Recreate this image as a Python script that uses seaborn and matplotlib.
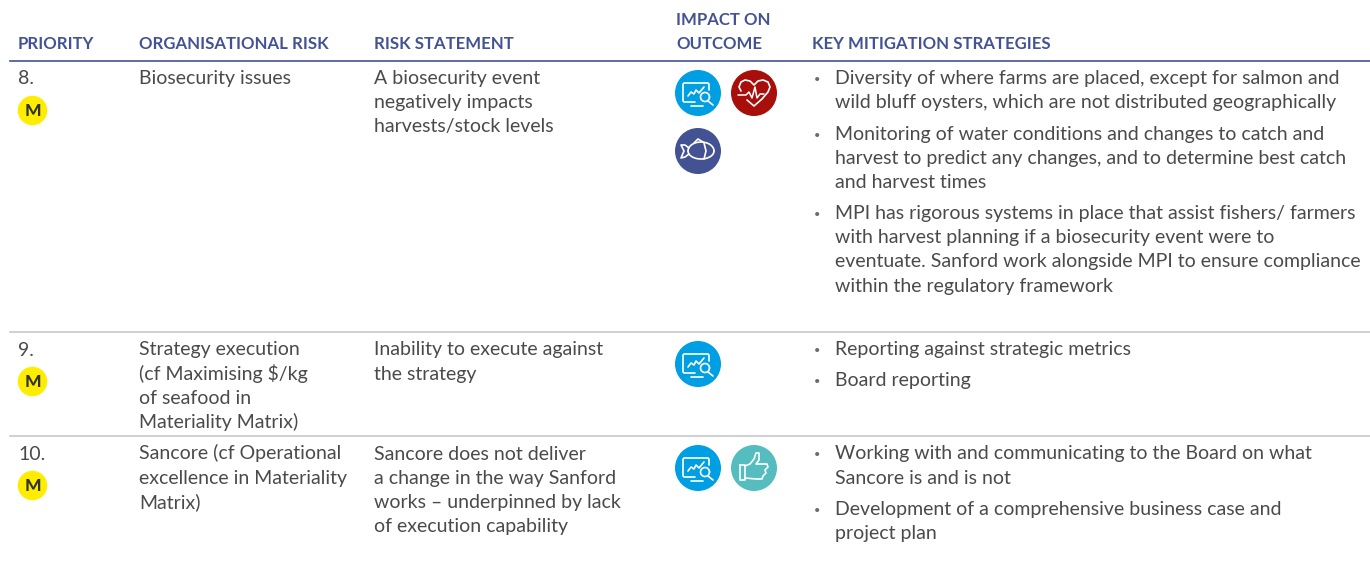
import numpy as np
import pandas as pd
import seaborn as sns
import matplotlib.pyplot as plt

# table content
headers = ['PRIORITY', 'ORGANISATIONAL RISK', 'RISK STATEMENT', 'KEY MITIGATION STRATEGIES']
header_x = [18, 139, 374, 812]
priority = ['8.', '9.', '10.']
risks = [['Biosecurity issues'],
         ['Strategy execution', '(cf Maximising $/kg', 'of seafood in', 'Materiality Matrix)'],
         ['Sancore (cf Operational', 'excellence in Materiality', 'Matrix)']]
statements = [['A biosecurity event', 'negatively impacts', 'harvests/stock levels'],
              ['Inability to execute against', 'the strategy'],
              ['Sancore does not deliver', 'a change in the way Sanford', 'works – underpinned by lack', 'of execution capability']]
mitigations = [[['Diversity of where farms are placed, except for salmon and', 'wild bluff oysters, which are not distributed geographically'],
                ['Monitoring of water conditions and changes to catch and', 'harvest to predict any changes, and to determine best catch', 'and harvest times'],
                ['MPI has rigorous systems in place that assist fishers/ farmers', 'with harvest planning if a biosecurity event were to', 'eventuate. Sanford work alongside MPI to ensure compliance', 'within the regulatory framework']],
               [['Reporting against strategic metrics'], ['Board reporting']],
               [['Working with and communicating to the Board on what', 'Sancore is and is not'],
                ['Development of a comprehensive business case and', 'project plan']]]
row_top = [84, 355.5, 459.5]
bullet_tops = [[84, 140, 219], [355.5, 386], [459.5, 514.5]]

# icons
icon_x = [698, 754, 698, 698, 698, 754]
icon_y = [93, 93, 151, 364, 468, 468]
icon_kind = ['chart', 'heart', 'fish', 'chart', 'chart', 'thumb']
icon_cols = {'chart': '#009fe3', 'heart': '#a80f0b', 'fish': '#435293', 'thumb': '#55bcc0'}
badge_x = [32.5, 32.5, 32.5]
badge_y = [110, 381, 485]

BLUE = '#435293'
TXT = '#4a4a4a'
LS = 24.2

plt.rcParams['font.family'] = ['Lato', 'DejaVu Sans']
fig, ax = plt.subplots(figsize=(13.7, 5.77), dpi=100)
fig.subplots_adjust(0, 0, 1, 1)

df_icons = pd.DataFrame({'x': icon_x, 'y': icon_y, 'kind': icon_kind})
sns.scatterplot(data=df_icons, x='x', y='y', hue='kind', palette=icon_cols, s=1097,
                linewidth=0, legend=False, ax=ax, zorder=2)
df_badges = pd.DataFrame({'x': badge_x, 'y': badge_y})
sns.scatterplot(data=df_badges, x='x', y='y', color='#ffed00', s=450, linewidth=0, ax=ax, zorder=2)

ax.set_xlim(0, 1370)
ax.set_ylim(577, 0)
ax.axis('off')


def put(x, y, s, **kw):
    kw.setdefault('color', TXT)
    kw.setdefault('fontsize', 14.05)
    ax.text(x, y, s, va='baseline', ha=kw.pop('ha', 'left'), **kw)


def stroke(cx, cy, xs, ys, lw=1.2):
    ax.plot(cx + np.array(xs), cy + np.array(ys), color='white', lw=lw, zorder=3,
            solid_capstyle='round', solid_joinstyle='round')


def draw_chart(cx, cy):
    stroke(cx, cy, [-3, -14, -15, -15, -14, 10, 11, 11], [9, 9, 8, -9, -10, -10, -9, -3])
    stroke(cx, cy, [-7, 5], [13, 13])
    stroke(cx, cy, [-10, -7, -4, -2, 1, 6], [3, -1, 1, -3, 0, -6])
    t = np.linspace(0, 2 * np.pi, 30)
    stroke(cx, cy, 7 + 4.5 * np.cos(t), 4 + 4.5 * np.sin(t))
    stroke(cx, cy, [10, 15], [8, 12])


def draw_heart(cx, cy):
    stroke(cx, cy, [-16, -8, -5, -2, 1, 3, 6, 10],
           [2, 2, -1, 5, -6, 5, 1, 1], lw=1.1)
    stroke(cx, cy, [-13, -15, -13, -9, -4, 0, 4, 9, 14, 16, 14, 8, 0, -7],
           [-2, -6, -11, -13, -12, -8, -12, -13, -11, -6, -1, 6, 13, 7])


def draw_fish(cx, cy):
    t = np.linspace(0, np.pi, 25)
    stroke(cx, cy, 3 + 13 * np.cos(t), -9 * np.sin(t))
    stroke(cx, cy, 3 + 13 * np.cos(t), 8 * np.sin(t))
    stroke(cx, cy, [-9, -13, -17, -14, -17, -13, -9], [-3, -6, -6, 0, 7, 6, 3])
    stroke(cx, cy, [-4, 0, 5], [-8, -12, -9])
    stroke(cx, cy, [6, 8, 6], [-8, 0, 8])
    stroke(cx, cy, [11, 11.5], [-2, -2], lw=2)


def draw_thumb(cx, cy):
    stroke(cx, cy, [-14, -9, -9, -14, -14], [-3, -3, 12, 12, -3])
    stroke(cx, cy, [-9, -4, 0, 2, 5, 5, 2, 13, 14, 11, 12, 9, 8, 2, -9],
           [-2, -4, -9, -15, -15, -8, -4, -4, -1, 2, 5, 8, 11, 11, 10])


painters = {'chart': draw_chart, 'heart': draw_heart, 'fish': draw_fish, 'thumb': draw_thumb}
for x, y, k in zip(icon_x, icon_y, icon_kind):
    painters[k](x, y)

# rules
ax.plot([10, 1370], [61, 61], color=BLUE, lw=1.2)
ax.plot([10, 1370], [332, 332], color='#c8c8c8', lw=1.2)
ax.plot([10, 1370], [436, 436], color='#c8c8c8', lw=1.2)

# header
for x, s in zip(header_x, headers):
    put(x, 49, s, color=BLUE, fontsize=12.1, fontweight='bold')
put(676, 25, 'IMPACT ON', color=BLUE, fontsize=12.1, fontweight='bold')
put(676, 49, 'OUTCOME', color=BLUE, fontsize=12.1, fontweight='bold')

# rows
for i in range(3):
    put(18, row_top[i], priority[i])
    for j, s in enumerate(risks[i]):
        put(139, row_top[i] + j * LS, s)
    for j, s in enumerate(statements[i]):
        put(374, row_top[i] + j * LS, s)
    for top, item in zip(bullet_tops[i], mitigations[i]):
        put(814, top - 1, '•', fontsize=8, color='#6a6a6a')
        for j, s in enumerate(item):
            put(835, top + j * LS, s)

for x, y in zip(badge_x, badge_y):
    put(x, y + 6, 'M', fontsize=12.5, fontweight=900, ha='center', color='#333333', zorder=4)

fig.savefig('out.png', dpi=100)
